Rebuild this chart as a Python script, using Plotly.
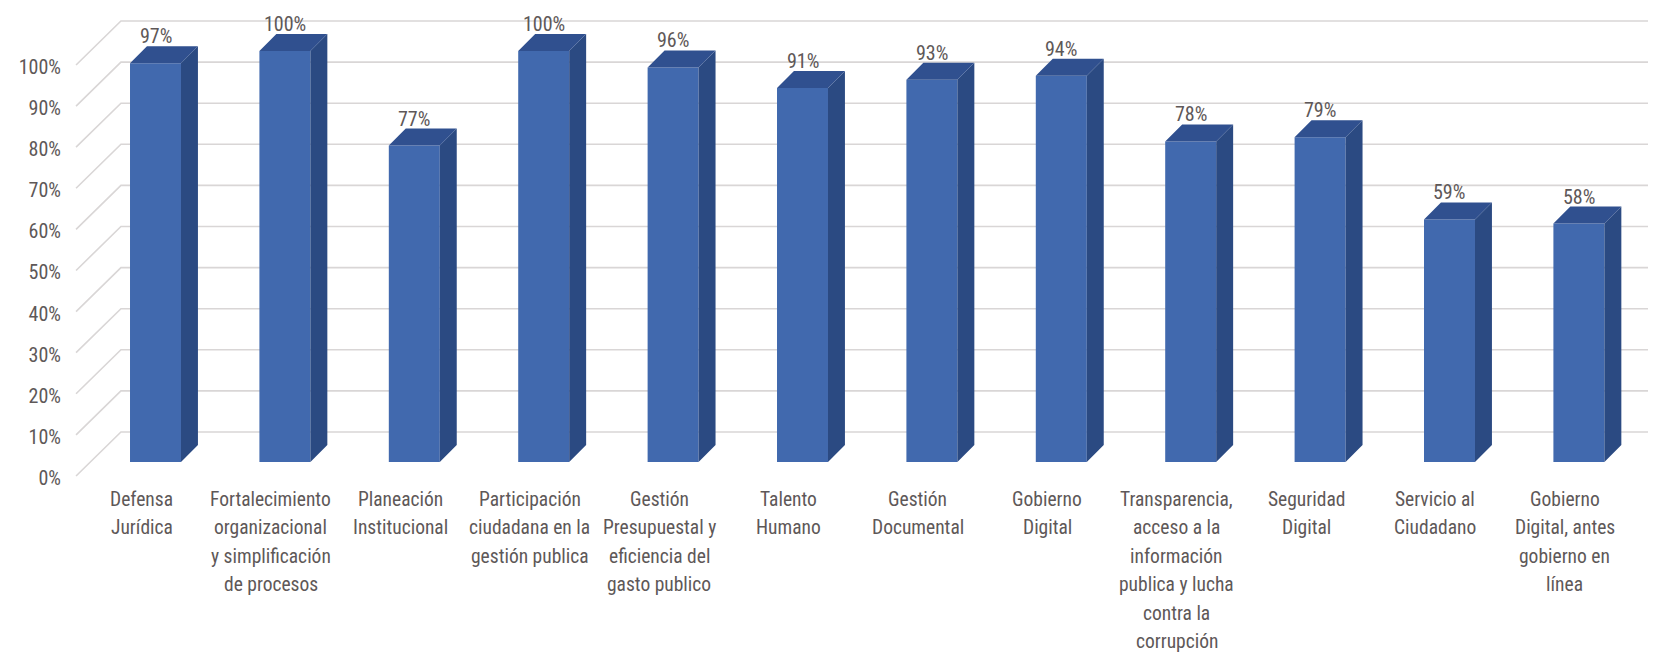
import plotly.graph_objects as go

# ---------------- data ----------------
categories = [
    "Defensa<br>Jurídica",
    "Fortalecimiento<br>organizacional<br>y simplificación<br>de procesos",
    "Planeación<br>Institucional",
    "Participación<br>ciudadana en la<br>gestión publica",
    "Gestión<br>Presupuestal y<br>eficiencia del<br>gasto publico",
    "Talento<br>Humano",
    "Gestión<br>Documental",
    "Gobierno<br>Digital",
    "Transparencia,<br>acceso a la<br>información<br>publica y lucha<br>contra la<br>corrupción",
    "Seguridad<br>Digital",
    "Servicio al<br>Ciudadano",
    "Gobierno<br>Digital, antes<br>gobierno en<br>línea",
]
values_pct = [97, 100, 77, 100, 96, 91, 93, 94, 78, 79, 59, 58]
y_ticks = [0, 0.1, 0.2, 0.3, 0.4, 0.5, 0.6, 0.7, 0.8, 0.9, 1.0]
y_tick_labels = ["0%", "10%", "20%", "30%", "40%", "50%", "60%", "70%", "80%", "90%", "100%"]

# ---------------- style / geometry ----------------
FONT = "Roboto Condensed, Roboto, sans-serif"
TXT = "#5e5858"
FRONT = "#4169ae"
SIDE = "#2b4a82"
TOP = "#30508f"
GRID = "#d9d6d6"
BAR_W = 0.394     # front face width (category units)
DX = 0.131        # depth offset in x (category units)
DY = 0.0414       # depth offset in y (value units)
BACK_DY = 0.073   # back wall offset above bar plane
FRONT_DY = -0.034 # front edge of wall below bar plane
BACK_X = -0.267   # back-left corner x
FRONT_X = -0.614  # front-left corner x
RIGHT_X = 11.61   # right end of back wall gridlines
LABEL_SHIFT = -14 # category labels sit on the front plane (px)
LINE_H = 28.5     # category label line height (px)
FIRST_LINE = -11  # first label line centre below plot bottom (px)

idx = list(range(len(categories)))
vals = [v / 100 for v in values_pct]

fig = go.Figure()

# back wall + left wall gridlines (behind everything)
for t in y_ticks:
    fig.add_shape(type="path", xref="x", yref="y", layer="below",
                  path=f"M {FRONT_X},{t + FRONT_DY} L {BACK_X},{t + BACK_DY} L {RIGHT_X},{t + BACK_DY}",
                  line=dict(color=GRID, width=1.6))

# front faces
fig.add_trace(go.Bar(x=idx, y=vals, width=BAR_W, marker=dict(color=FRONT, line=dict(width=0)),
                     hoverinfo="skip", showlegend=False))

# side faces
sx, sy = [], []
for i, v in zip(idx, vals):
    xr = i + BAR_W / 2
    sx += [xr, xr + DX, xr + DX, xr, xr, None]
    sy += [0, DY, v + DY, v, 0, None]
fig.add_trace(go.Scatter(x=sx, y=sy, mode="lines", fill="toself", fillcolor=SIDE,
                         line=dict(width=0, color=SIDE), hoverinfo="skip", showlegend=False))

# top faces
tx, ty = [], []
for i, v in zip(idx, vals):
    xl = i - BAR_W / 2
    xr = i + BAR_W / 2
    tx += [xl, xl + DX, xr + DX, xr, xl, None]
    ty += [v, v + DY, v + DY, v, v, None]
fig.add_trace(go.Scatter(x=tx, y=ty, mode="lines", fill="toself", fillcolor=TOP,
                         line=dict(width=0, color=TOP), hoverinfo="skip", showlegend=False))

# data labels (just above the back edge of each top face)
for i, v, p in zip(idx, vals, values_pct):
    fig.add_annotation(x=i, y=v + DY, xref="x", yref="y", text=f"{p}%", showarrow=False,
                       xanchor="center", yanchor="bottom", yshift=-4,
                       font=dict(family=FONT, size=20, color=TXT))

# category labels, one annotation per line for Excel-like line spacing
for i, lab in zip(idx, categories):
    for k, line in enumerate(lab.split("<br>")):
        fig.add_annotation(x=i, y=0, xref="x", yref="paper", text=line, showarrow=False,
                           xanchor="center", yanchor="middle",
                           xshift=LABEL_SHIFT, yshift=FIRST_LINE - LINE_H * k,
                           font=dict(family=FONT, size=19.5, color=TXT))

fig.update_layout(
    width=1656, height=654,
    margin=dict(l=60, r=0, t=0, b=174),
    paper_bgcolor="white", plot_bgcolor="white",
    font=dict(family=FONT, color=TXT),
    showlegend=False,
    xaxis=dict(range=[-0.6762, 11.6577], tickmode="array", tickvals=idx,
               ticktext=["" for _ in idx],
               showgrid=False, zeroline=False, showline=False, ticks="", tickangle=0,
               fixedrange=True),
    yaxis=dict(range=[-0.0633, 1.1046], tickmode="array", tickvals=y_ticks, ticktext=y_tick_labels,
               showgrid=False, zeroline=False, showline=False, ticks="",
               tickfont=dict(family=FONT, size=20, color=TXT),
               ticklabelshift=16, ticklabelstandoff=6, fixedrange=True),
)

fig.write_html("out.html")
